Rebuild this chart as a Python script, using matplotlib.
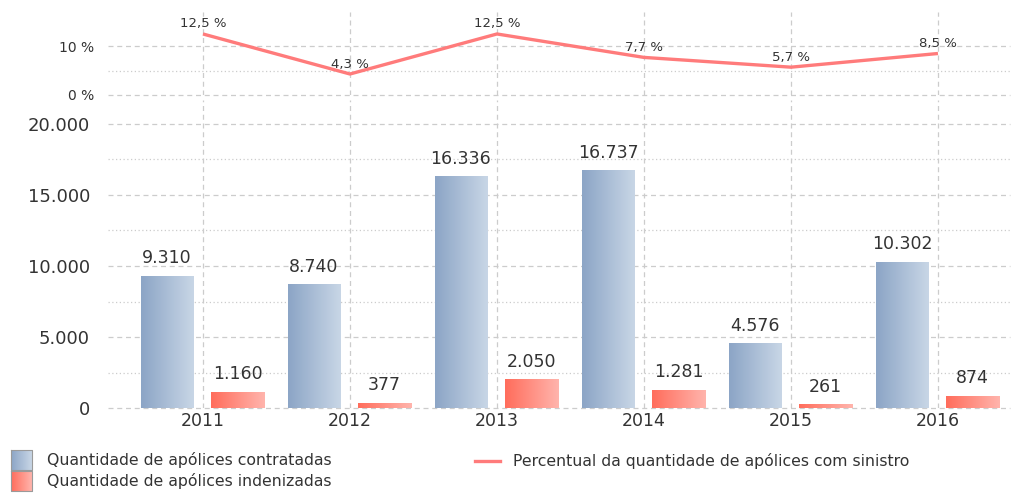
import numpy as np
import matplotlib
matplotlib.use("Agg")
import matplotlib.pyplot as plt
from matplotlib.colors import LinearSegmentedColormap

years = ["2011", "2012", "2013", "2014", "2015", "2016"]
contratadas = [9310, 8740, 16336, 16737, 4576, 10302]
indenizadas = [1160, 377, 2050, 1281, 261, 874]
percentual = [12.5, 4.3, 12.5, 7.7, 5.7, 8.5]
pct_ticks = [0, 10]
bar_ticks = [0, 5000, 10000, 15000, 20000]

plt.rcParams['font.family'] = ['DejaVu Sans']
W, H = 1015, 493
fig = plt.figure(figsize=(W / 100, H / 100), dpi=100)

def px_axes(l, t, r, b):
    return fig.add_axes([l / W, 1 - b / H, (r - l) / W, (b - t) / H])

def fmt_thousand(v):
    return f"{v:,}".replace(",", ".")

text_color = "#333333"
grid_color = "#cccccc"
x = np.arange(len(years))
xlim = (-0.646, 5.49)

blue_cmap = LinearSegmentedColormap.from_list("b", ["#8ca5c6", "#c8d6e6"])
red_cmap = LinearSegmentedColormap.from_list("r", ["#ff6d5c", "#ffb4ac"])
grad = np.linspace(0, 1, 64).reshape(1, -1)
line_color = "#ff7b7b"

# ---------- top panel (percent line) ----------
axt = px_axes(108, 12, 1010, 95)
top_max = 17.0
axt.set_xlim(*xlim)
axt.set_ylim(0, top_max)
for s in axt.spines.values():
    s.set_visible(False)
axt.set_yticks(pct_ticks)
axt.set_yticklabels([f"{t} %" for t in pct_ticks], fontsize=10, color=text_color)
axt.tick_params(axis='y', length=0, pad=10)
axt.set_xticks([])
for t in pct_ticks:
    axt.axhline(t, color=grid_color, lw=0.9, ls=(0, (4, 3)), zorder=0, clip_on=False)
axt.axhline(5, color=grid_color, lw=0.9, ls=(0, (1, 2)), zorder=0)
for xi in x:
    axt.axvline(xi, color=grid_color, lw=0.9, ls=(0, (4, 3)), zorder=0)
axt.plot(x, percentual, color=line_color, lw=2.4, zorder=3, solid_capstyle='butt')
for xi, p in zip(x, percentual):
    axt.annotate(f"{p:.1f} %".replace(".", ","), (xi, p), xytext=(0, 2.5),
                 textcoords="offset points", ha="center", va="bottom",
                 fontsize=9.5, color=text_color, zorder=4)

# ---------- bottom panel (bars) ----------
axb = px_axes(108, 100, 1010, 408)
ymax = 20000 * (408 - 100) / (408 - 124)
axb.set_xlim(*xlim)
axb.set_ylim(0, ymax)
for s in axb.spines.values():
    s.set_visible(False)
axb.set_yticks(bar_ticks)
axb.set_yticklabels([fmt_thousand(t) for t in bar_ticks], fontsize=13, color=text_color)
axb.tick_params(axis='y', length=0, pad=13)
axb.set_xticks(x)
axb.set_xticklabels(years, fontsize=12.5, color=text_color)
axb.tick_params(axis='x', length=0, pad=3)
for t in bar_ticks:
    axb.axhline(t, color=grid_color, lw=0.9, ls=(0, (4, 3)), zorder=0, clip_on=False)
for t in np.arange(2500, 20000, 5000):
    axb.axhline(t, color=grid_color, lw=0.9, ls=(0, (1, 2)), zorder=0)
for xi in x:
    axb.axvline(xi, color=grid_color, lw=0.9, ls=(0, (4, 3)), zorder=0)

b1 = axb.bar(x - 0.245, contratadas, 0.355, color="#aabdd6", zorder=2, lw=0)
b2 = axb.bar(x + 0.235, indenizadas, 0.365, color="#ff9088", zorder=2, lw=0)
for bars, cmap in ((b1, blue_cmap), (b2, red_cmap)):
    for r in bars:
        x0, w, h = r.get_x(), r.get_width(), r.get_height()
        im = axb.imshow(grad, cmap=cmap, extent=[x0, x0 + w, 0, h],
                        aspect='auto', zorder=2.5, interpolation='bilinear')
        im.set_clip_path(r)
axb.set_xlim(*xlim)
axb.set_ylim(0, ymax)
for bars, vals in ((b1, contratadas), (b2, indenizadas)):
    for r, v in zip(bars, vals):
        axb.annotate(fmt_thousand(v), (r.get_x() + r.get_width() / 2, v),
                     xytext=(0, 6), textcoords="offset points", ha="center",
                     va="bottom", fontsize=12.5, color=text_color, zorder=4)

# ---------- legend ----------
axl = px_axes(0, 440, W, H)
axl.set_xlim(0, W)
axl.set_ylim(H, 440)
axl.axis('off')
for (ty, cmap, lab) in ((460, blue_cmap, "Quantidade de apólices contratadas"),
                        (481, red_cmap, "Quantidade de apólices indenizadas")):
    axl.imshow(grad, cmap=cmap, extent=[11, 32, ty + 10, ty - 10], aspect='auto',
               interpolation='bilinear')
    axl.plot([11, 32, 32, 11, 11], [ty - 10, ty - 10, ty + 10, ty + 10, ty - 10],
             color="#9a9a9a", lw=0.8)
    axl.text(47, ty, lab, fontsize=11.3, color=text_color, va="center", ha="left")
axl.plot([475, 500], [461, 461], color=line_color, lw=2.4)
axl.text(513, 461, "Percentual da quantidade de apólices com sinistro", fontsize=11.3,
         color=text_color, va="center", ha="left")
axl.set_xlim(0, W)
axl.set_ylim(H, 440)

fig.savefig("out.png", dpi=100)
